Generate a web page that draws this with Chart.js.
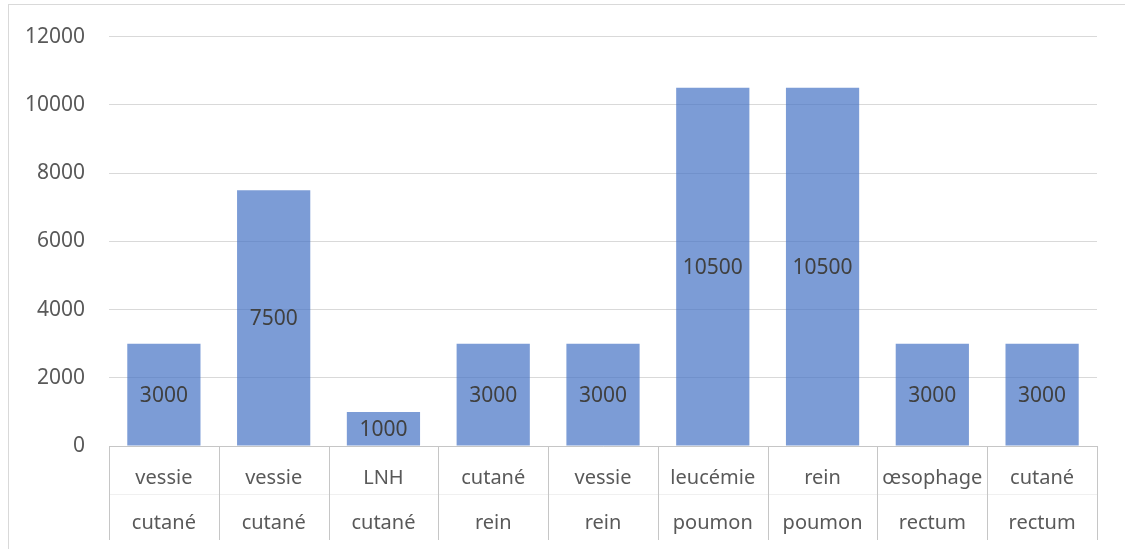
<!DOCTYPE html>
<html>
<head>
<meta charset="utf-8">
<script src="https://cdn.jsdelivr.net/npm/chart.js@4/dist/chart.umd.min.js"></script>
<style>
  html, body { margin: 0; padding: 0; background: #fff; }
  #wrap { width: 1125px; height: 549px; position: relative; }
</style>
</head>
<body>
<div id="wrap"><canvas id="chart"></canvas></div>
<script>
// ----------------------
// DATA
// ----------------------
const topLabels = ['vessie', 'vessie', 'LNH', 'cutané', 'vessie', 'leucémie', 'rein', 'œsophage', 'cutané'];
const bottomLabels = ['cutané', 'cutané', 'cutané', 'rein', 'rein', 'poumon', 'poumon', 'rectum', 'rectum'];
const counts = [3000, 7500, 1000, 3000, 3000, 10500, 10500, 3000, 3000];
const yTicks = [0, 2000, 4000, 6000, 8000, 10000, 12000];

const FONT = "'Noto Sans', 'Liberation Sans', sans-serif";

// outer frame + label-table lines under the x axis
const framePlugin = {
  id: 'frame',
  beforeDraw(chart) {
    const { ctx } = chart;
    ctx.save();
    ctx.strokeStyle = '#d9d9d9';
    ctx.lineWidth = 1;
    ctx.strokeRect(8.5, 4.5, 1130, 560);
    ctx.restore();
  },
  afterDraw(chart) {
    const { ctx, chartArea } = chart;
    const x = chart.scales.x;
    const step = (chartArea.right - chartArea.left) / counts.length;
    const bottom = chartArea.bottom + 94;
    ctx.save();
    // faint row divider between the two label lines
    ctx.strokeStyle = '#f0f0f0';
    ctx.beginPath();
    ctx.moveTo(chartArea.left, chartArea.bottom + 48.5);
    ctx.lineTo(chartArea.right, chartArea.bottom + 48.5);
    ctx.stroke();
    ctx.strokeStyle = '#c6c6c6';
    ctx.lineWidth = 1;
    for (let i = 0; i <= counts.length; i++) {
      const px = Math.round(x.getPixelForValue(i) - step / 2) + 0.5;
      ctx.beginPath();
      ctx.moveTo(px, chartArea.bottom);
      ctx.lineTo(px, bottom);
      ctx.stroke();
    }
    ctx.restore();
  }
};

// value printed in the middle of each bar
const barValuePlugin = {
  id: 'barValues',
  afterDatasetsDraw(chart) {
    const { ctx } = chart;
    const meta = chart.getDatasetMeta(0);
    ctx.save();
    ctx.font = '21px ' + FONT;
    ctx.fillStyle = '#404040';
    ctx.textAlign = 'center';
    ctx.textBaseline = 'middle';
    meta.data.forEach((bar, i) => {
      ctx.fillText(String(counts[i]), bar.x, (bar.y + bar.base) / 2 + 1);
    });
    ctx.restore();
  }
};

new Chart(document.getElementById('chart'), {
  type: 'bar',
  data: {
    labels: topLabels.map((t, i) => [t, bottomLabels[i]]),
    datasets: [{
      data: counts,
      backgroundColor: 'rgba(68, 114, 196, 0.7)',
      borderWidth: 0,
      barPercentage: 0.667,
      categoryPercentage: 1
    }]
  },
  options: {
    responsive: true,
    maintainAspectRatio: false,
    animation: false,
    layout: { padding: { left: 0, right: 28, top: 30, bottom: 0 } },
    plugins: {
      legend: { display: false },
      tooltip: { enabled: false }
    },
    scales: {
      x: {
        grid: { display: false, drawTicks: false },
        border: { display: true, color: '#c6c6c6', width: 1 },
        ticks: {
          color: '#595959',
          font: { family: FONT, size: 20, lineHeight: 2.25 },
          padding: 10,
          maxRotation: 0,
          autoSkip: false
        },
        afterFit(scale) { scale.height = 103; }
      },
      y: {
        min: 0,
        max: 12000,
        afterBuildTicks(scale) { scale.ticks = yTicks.map(v => ({ value: v })); },
        grid: { color: '#d9d9d9', lineWidth: 1, drawTicks: false },
        border: { display: false },
        ticks: {
          color: '#595959',
          font: { family: FONT, size: 21 },
          padding: 24,
          callback: v => String(v)
        },
        afterFit(scale) { scale.width = 109; }
      }
    }
  },
  plugins: [framePlugin, barValuePlugin]
});
</script>
</body>
</html>
